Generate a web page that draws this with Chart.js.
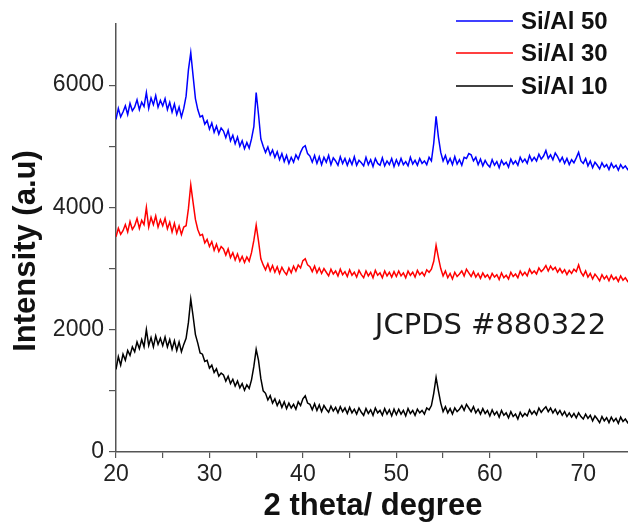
<!DOCTYPE html>
<html>
<head>
<meta charset="utf-8">
<script src="https://cdn.jsdelivr.net/npm/chart.js@4"></script>
<style>
  html, body { margin: 0; padding: 0; background: #ffffff; overflow: hidden; }
  #wrap { width: 630px; height: 526px; }
</style>
</head>
<body>
<div id="wrap"><canvas id="c" width="630" height="526" style="width:630px;height:526px"></canvas></div>
<script>
// ---- data (2θ grid: 20° to 75°, 0.25° step) ----
const thetaStart = 20;
const thetaStep = 0.25;

const seriesLabels = ["Si/Al 50", "Si/Al 30", "Si/Al 10"];
const seriesColors = ["#0000ff", "#ff0000", "#000000"];

const siAl50 = [
  5440, 5620, 5480, 5560, 5660, 5520, 5700, 5580, 5640, 5760, 5600, 5720, 5650, 5880, 5620, 5790, 5680, 5830, 5640, 5750,
  5660, 5780, 5600, 5720, 5560, 5690, 5520, 5640, 5480, 5620, 5820, 6250, 6530, 6150, 5780, 5600, 5480, 5500, 5360, 5420,
  5280, 5380, 5230, 5330, 5200, 5300, 5250, 5140, 5260, 5090, 5180, 5040, 5150, 5000, 5090, 4960, 5060, 4970, 5120, 5320,
  5880, 5520, 5120, 5000, 4900, 4990, 4860, 4940, 4820, 4910, 4780, 4880, 4750, 4850, 4720, 4820, 4740, 4860, 4790, 4900,
  4980, 5010, 4880, 4840, 4740, 4850, 4720, 4830, 4700, 4820, 4740, 4850, 4700, 4810, 4760, 4690, 4830, 4720, 4800, 4690,
  4790, 4700, 4830, 4690, 4770, 4730, 4680, 4820, 4700, 4780, 4670, 4800, 4720, 4690, 4810, 4680, 4760, 4700, 4800, 4670,
  4780, 4690, 4800, 4700, 4750, 4680, 4820, 4710, 4770, 4690, 4800, 4720, 4760, 4700, 4820, 4760, 5050, 5490, 5150, 4900,
  4760, 4850, 4720, 4800, 4700, 4830, 4710, 4780, 4690, 4820, 4800, 4880, 4860, 4760, 4820, 4700, 4790, 4680, 4770, 4700,
  4660, 4780, 4690, 4750, 4650, 4770, 4700, 4740, 4660, 4790, 4710, 4760, 4690, 4820, 4740, 4790, 4720, 4850, 4760, 4820,
  4760, 4870, 4790, 4840, 4930, 4800, 4860, 4780, 4890, 4830, 4750, 4820, 4720, 4800, 4700, 4780, 4730, 4810, 4900, 4760,
  4720, 4800, 4680, 4760, 4650, 4740, 4690, 4630, 4730, 4660, 4700, 4620, 4720, 4650, 4690, 4610, 4700, 4640, 4680, 4620,
  4660
];

const siAl30 = [
  3520, 3660, 3560, 3620, 3720, 3600, 3770, 3640, 3700, 3820, 3660, 3790, 3720, 4000, 3680, 3840, 3720, 3860, 3680, 3800,
  3700, 3820, 3650, 3760, 3600, 3740, 3580, 3700, 3560, 3680, 3700, 3980, 4370, 4080, 3800, 3640, 3540, 3560, 3420, 3480,
  3360, 3440, 3300, 3400, 3280, 3360, 3320, 3220, 3320, 3180, 3260, 3140, 3240, 3120, 3200, 3100, 3190, 3120, 3260, 3460,
  3710, 3450, 3160, 3060, 2980, 3080, 2960, 3050, 2940, 3030, 2920, 3020, 2950, 2900, 3010, 2930, 3040, 2960, 3060, 3010,
  3130, 3160, 3060, 3030, 2950, 3040, 2930, 3010, 2920, 3000, 2940, 2880, 2990, 2910, 2960, 2880, 2990, 2900, 2950, 2870,
  2980, 2890, 2940, 2860, 2970, 2900, 2850, 2960, 2880, 2940, 2850, 2970, 2890, 2930, 2850, 2960, 2880, 2940, 2860, 2950,
  2870, 2960, 2880, 2930, 2850, 2960, 2890, 2940, 2860, 2970, 2900, 2940, 2880, 2980, 2940, 2990, 3120, 3380, 3180, 3000,
  2880, 2960, 2850, 2920, 2830, 2940, 2870, 2910, 2960, 2880, 2990, 2930, 2870, 2950, 2860, 2920, 2840, 2930, 2860, 2900,
  2830, 2920, 2860, 2900, 2820, 2930, 2850, 2890, 2830, 2940, 2870, 2910, 2850, 2960, 2890, 2940, 2880, 2990, 2920, 2960,
  2910, 3010, 2950, 2990, 3050, 2960, 3040, 2980, 3020, 2940, 3000, 2930, 2980, 2900, 2970, 2920, 2990, 2950, 3060, 2940,
  2880, 2960, 2860, 2920, 2830, 2910, 2860, 2800, 2900, 2830, 2880, 2800, 2890, 2820, 2860, 2790, 2880, 2810, 2850, 2790,
  2840
];

const siAl10 = [
  1350, 1560, 1420, 1600, 1500, 1660, 1580, 1720, 1640, 1800, 1690, 1840, 1720, 2000, 1740, 1870, 1720, 1900, 1760, 1860,
  1740, 1880, 1720, 1840, 1680, 1820, 1660, 1800, 1640, 1760, 1860, 2120, 2500, 2220, 1920, 1780, 1620, 1600, 1480, 1500,
  1370, 1420, 1300, 1360, 1240, 1290, 1260, 1160, 1240, 1120, 1190, 1080, 1160, 1050, 1120, 1010, 1100, 1040, 1180, 1400,
  1680, 1500, 1200, 1000, 960, 850, 920, 800, 870, 760, 840, 730, 820, 710, 800, 720, 780, 700, 820, 760,
  870, 920, 800, 780, 690, 790, 680, 770, 660, 760, 700, 650, 750, 670, 730, 640, 740, 660, 720, 630,
  730, 640, 700, 620, 720, 650, 600, 710, 630, 690, 600, 720, 640, 680, 600, 710, 620, 690, 590, 700,
  610, 700, 620, 680, 590, 710, 630, 680, 600, 700, 640, 680, 620, 720, 690, 760, 960, 1220, 1000, 800,
  660, 740, 640, 710, 620, 720, 660, 700, 760, 680, 780, 720, 660, 740, 640, 700, 620, 710, 630, 680,
  590, 690, 610, 660, 570, 680, 600, 640, 560, 660, 580, 620, 540, 650, 580, 630, 590, 690, 620, 670,
  610, 720, 650, 700, 740, 660, 720, 640, 700, 620, 680, 600, 660, 580, 640, 570, 630, 560, 640, 580,
  540, 620, 550, 600, 510, 590, 540, 480, 580, 510, 560, 480, 570, 500, 550, 470, 570, 500, 540, 480,
  530
];

const xTickLabels = ["20", "30", "40", "50", "60", "70"];
const yTickLabels = ["0", "2000", "4000", "6000"];
const xTitle = "2 theta/ degree";
const yTitle = "Intensity (a.u)";
const annotationText = "JCPDS #880322";
const annotationPos = { x: 47.7, y: 2045 };

// ---- build ----
const seriesValues = [siAl50, siAl30, siAl10];
const datasets = seriesValues.map((vals, k) => ({
  label: seriesLabels[k],
  data: vals.map((v, i) => ({ x: thetaStart + thetaStep * i, y: v })),
  borderColor: seriesColors[k],
  backgroundColor: seriesColors[k],
  borderWidth: 1.5,
  pointRadius: 0,
  tension: 0,
  fill: false
}));

const axisColor = "#555555";
const tickFont = { family: "Liberation Sans, Arial, sans-serif", size: 23 };

const overlay = {
  id: "overlay",
  afterDraw(chart) {
    const ctx = chart.ctx;
    const xs = chart.scales.x, ys = chart.scales.y;
    ctx.save();
    // y-axis title
    ctx.save();
    ctx.translate(26, 251);
    ctx.rotate(-Math.PI / 2);
    ctx.fillStyle = "#111111";
    ctx.font = "bold 31px 'Liberation Sans', Arial, sans-serif";
    ctx.textAlign = "center";
    ctx.textBaseline = "middle";
    ctx.fillText(yTitle, 0, 0);
    ctx.restore();
    // annotation
    ctx.fillStyle = "#1a1a1a";
    ctx.font = "29px 'DejaVu Sans', Verdana, sans-serif";
    ctx.textBaseline = "middle";
    ctx.textAlign = "left";
    ctx.fillText(annotationText, xs.getPixelForValue(annotationPos.x), ys.getPixelForValue(annotationPos.y));
    // legend
    const lx0 = 456, lx1 = 513, tx = 521;
    const rowY = [21, 53, 86];
    chart.data.datasets.forEach((ds, i) => {
      ctx.strokeStyle = ds.borderColor;
      ctx.lineWidth = 1.5;
      ctx.beginPath();
      ctx.moveTo(lx0, rowY[i]);
      ctx.lineTo(lx1, rowY[i]);
      ctx.stroke();
      ctx.fillStyle = "#111111";
      ctx.font = "bold 24px 'Liberation Sans', Arial, sans-serif";
      ctx.fillText(ds.label, tx, rowY[i] + 1);
    });
    ctx.restore();
  }
};

new Chart(document.getElementById("c"), {
  type: "line",
  data: { datasets },
  plugins: [overlay],
  options: {
    responsive: false,
    animation: false,
    events: [],
    layout: { padding: { top: 24, right: 0, left: 0, bottom: 0 } },
    plugins: { legend: { display: false }, tooltip: { enabled: false } },
    scales: {
      x: {
        type: "linear",
        min: 20,
        max: 75,
        afterBuildTicks: (s) => { s.ticks = s.ticks.filter(t => t.value < 75); },
        afterFit: (s) => { s.height = 74; },
        ticks: {
          stepSize: 5,
          color: "#222222",
          font: tickFont,
          padding: 3,
          maxRotation: 0,
          autoSkip: false,
          callback: (v) => (xTickLabels.includes(String(v)) ? String(v) : "")
        },
        grid: { drawOnChartArea: false, drawTicks: true, tickLength: 6, color: axisColor, lineWidth: 1.2 },
        border: { color: axisColor, width: 1.5 },
        title: {
          display: true,
          text: xTitle,
          color: "#111111",
          font: { family: "Liberation Sans, Arial, sans-serif", size: 31, weight: "bold" },
          padding: { top: 0, bottom: 1 }
        }
      },
      y: {
        min: 0,
        max: 7000,
        afterBuildTicks: (s) => { s.ticks = s.ticks.filter(t => t.value < 7000); },
        afterFit: (s) => { s.width = 116; },
        ticks: {
          stepSize: 1000,
          color: "#222222",
          font: tickFont,
          padding: 5,
          autoSkip: false,
          callback: (v) => (yTickLabels.includes(String(v)) ? String(v) : "")
        },
        grid: { drawOnChartArea: false, drawTicks: true, tickLength: 7, color: axisColor, lineWidth: 1.2 },
        border: { color: axisColor, width: 1.5 },
        title: { display: false }
      }
    }
  }
});
</script>
</body>
</html>
